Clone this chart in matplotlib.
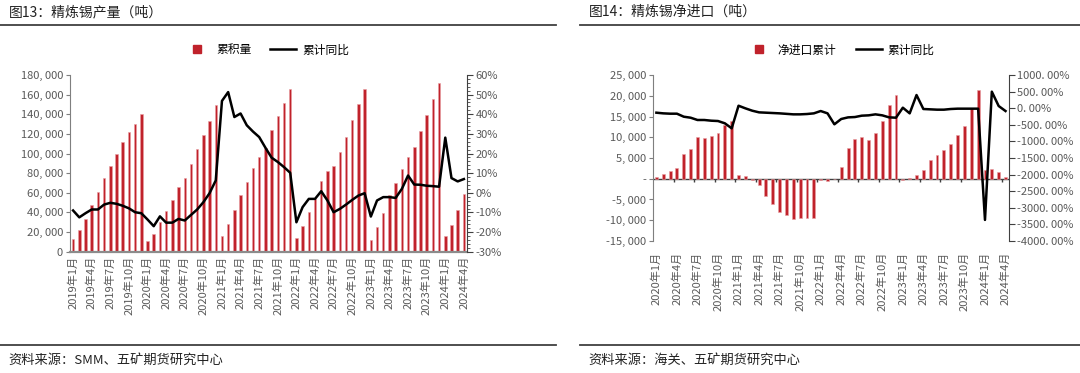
import numpy as np
import matplotlib
matplotlib.use("Agg")
import matplotlib.pyplot as plt
from matplotlib.lines import Line2D
from matplotlib.ticker import FixedLocator, AutoMinorLocator

plt.rcParams['font.family'] = ['Noto Sans CJK SC', 'DejaVu Sans']
plt.rcParams['axes.unicode_minus'] = False

# ---- data: refined tin output (t) and cumulative yoy (%) ----
prod_months = [f"{y}年{m}月" for y in range(2019, 2025) for m in range(1, 13)][:64]
prod_cum = [
    13000, 22300, 33800, 48000, 61300, 75200, 87400, 99700, 112100, 121900, 129600, 139800,
    10900, 18400, 30000, 41600, 52900, 65500, 75000, 89300, 104700, 118700, 133300, 149700,
    15600, 28200, 42500, 57800, 71100, 85400, 96800, 106000, 123500, 137800, 151500, 166000,
    13600, 26300, 40200, 53500, 71600, 82500, 87600, 102000, 117000, 134400, 150700, 166100,
    11900, 25600, 39600, 57300, 70200, 84600, 96200, 106700, 123100, 139100, 155200, 171500,
    16000, 27300, 42300, 58700,
]
prod_yoy = [
    -9.0, -12.5, -10.4, -8.5, -8.5, -6.0, -5.1, -5.6, -6.6, -7.9, -9.9, -10.4,
    -13.6, -17.0, -12.0, -15.2, -15.2, -13.3, -14.1, -11.3, -8.5, -4.8, -0.2, 6.3,
    46.8, 51.3, 38.6, 40.4, 34.4, 31.2, 28.4, 23.0, 17.9, 15.7, 13.1, 10.2,
    -15.0, -7.3, -3.1, -3.1, 0.8, -3.9, -9.9, -8.2, -6.0, -3.6, -1.4, -0.2,
    -12.1, -3.9, -2.2, -2.2, -2.6, 2.0, 8.8, 4.2, 4.1, 3.6, 3.4, 3.1,
    28.1, 7.5, 5.8, 7.0,
]

# ---- data: refined tin net imports (t) and cumulative yoy (%) ----
imp_months = [f"{y}年{m}月" for y in range(2020, 2025) for m in range(1, 13)][:52]
imp_cum = [
    480, 1120, 1850, 2570, 5860, 7230, 9960, 9720, 10360, 11080, 12850, 13800,
    880, 560, -320, -1450, -4180, -6020, -8000, -8750, -9800, -9500, -9400, -9400,
    -300, -450, 50, 2810, 7470, 9480, 9960, 9310, 11080, 13810, 17830, 20150,
    -320, 240, 800, 2090, 4500, 5620, 6830, 8350, 10440, 12610, 17100, 21280,
    2090, 2330, 1610, 320,
]
imp_yoy = [
    -135, -155, -165, -165, -256, -286, -355, -355, -376, -386, -455, -606,
    75, -4, -75, -125, -135, -145, -155, -170, -185, -185, -175, -155,
    -85, -155, -485, -325, -276, -266, -225, -215, -185, -215, -276, -286,
    16, -155, 397, -24, -34, -44, -44, -24, -14, -14, -14, -14,
    -3365, 498, 66, -85,
]

RED = '#C0222B'
GRAY = '#595959'
AXC = '#7F7F7F'

fig = plt.figure(figsize=(10.8, 3.73), dpi=100)


def thousands(v, dash_zero=False):
    if v == 0:
        return '-' if dash_zero else '0'
    return f"{int(v):,}".replace(',', ', ')


# ================= left panel =================
ax1 = fig.add_axes([0.0648, 0.3252, 0.3676, 0.4737])
x1 = np.arange(len(prod_cum))
ax1.bar(x1, prod_cum, width=0.4, color=RED, edgecolor='#E8A0A4', linewidth=0.4, zorder=2)
ax1.set_xlim(-0.5, len(prod_cum) - 0.5)
ax1.set_ylim(0, 180000)
ax1.set_yticks(np.arange(0, 180001, 20000))
ax1.set_yticklabels([thousands(v) for v in np.arange(0, 180001, 20000)])
ax1.set_xticks(x1[::3])
ax1.set_xticklabels(prod_months[::3], rotation=90)
ax1.tick_params(axis='x', length=0, pad=3, labelsize=8, labelcolor=GRAY)
ax1.tick_params(axis='y', length=3, color=AXC, labelsize=8, labelcolor=GRAY, pad=2)
for s in ['top', 'right']:
    ax1.spines[s].set_visible(False)
ax1.spines['left'].set_color(AXC)
ax1.spines['bottom'].set_color('#8C8C8C')
ax1.spines['bottom'].set_linewidth(1.6)

ax1b = ax1.twinx()
ax1b.plot(x1, prod_yoy, color='black', lw=1.8, zorder=3)
ax1b.set_ylim(-30, 60)
ax1b.set_yticks(np.arange(-30, 61, 10))
ax1b.set_yticklabels([f"{v}%" for v in range(-30, 61, 10)])
ax1b.yaxis.set_minor_locator(AutoMinorLocator(5))
ax1b.tick_params(axis='y', which='major', length=4, color='#404040', labelsize=8, labelcolor=GRAY, pad=2)
ax1b.tick_params(axis='y', which='minor', length=2, color='#404040')
for s in ['top', 'left', 'bottom']:
    ax1b.spines[s].set_visible(False)
ax1b.spines['right'].set_color('#404040')

fig.legend(handles=[Line2D([], [], marker='s', color=RED, ls='none', markersize=6),
                    Line2D([], [], color='black', lw=1.8)],
           labels=['累积量', '累计同比'], loc='center', bbox_to_anchor=(0.247, 0.866),
           ncol=2, frameon=False, fontsize=8.5, handlelength=2.2, columnspacing=1.6,
           handletextpad=0.5)

# ================= right panel =================
ax2 = fig.add_axes([0.6046, 0.3539, 0.3296, 0.4450])
x2 = np.arange(len(imp_cum))
ax2.bar(x2, imp_cum, width=0.42, color=RED, edgecolor='#E8A0A4', linewidth=0.4, zorder=2)
ax2.set_xlim(-0.5, len(imp_cum) - 0.5)
ax2.set_ylim(-15000, 25000)
yt2 = np.arange(-15000, 25001, 5000)
ax2.set_yticks(yt2)
ax2.set_yticklabels([thousands(v, dash_zero=True) for v in yt2])
ax2.set_xticks(x2[::3])
ax2.set_xticklabels(imp_months[::3], rotation=90)
ax2.tick_params(axis='x', length=0, pad=8, labelsize=8, labelcolor=GRAY)
ax2.tick_params(axis='y', length=3, color=AXC, labelsize=8, labelcolor=GRAY, pad=2)
for s in ['top', 'right', 'bottom']:
    ax2.spines[s].set_visible(False)
ax2.spines['left'].set_color(AXC)
ax2.axhline(0, color='#404040', lw=1.0, zorder=1)
cat_ticks = np.arange(2.5, len(imp_cum), 3)
ax2.vlines(cat_ticks, -900, 0, color='#404040', lw=1.0, zorder=1)

ax2b = ax2.twinx()
ax2b.plot(x2, imp_yoy, color='black', lw=1.8, zorder=3)
ax2b.set_ylim(-4000, 1000)
yt2b = np.arange(-4000, 1001, 500)
ax2b.set_yticks(yt2b)
ax2b.set_yticklabels([f"{v:.2f}%".replace('.', '. ') for v in yt2b])
ax2b.tick_params(axis='y', length=4, color='#404040', labelsize=8, labelcolor=GRAY, pad=2)
for s in ['top', 'left', 'bottom']:
    ax2b.spines[s].set_visible(False)
ax2b.spines['right'].set_color('#404040')

fig.legend(handles=[Line2D([], [], marker='s', color=RED, ls='none', markersize=6),
                    Line2D([], [], color='black', lw=1.8)],
           labels=['净进口累计', '累计同比'], loc='center', bbox_to_anchor=(0.778, 0.866),
           ncol=2, frameon=False, fontsize=8.5, handlelength=2.2, columnspacing=1.6,
           handletextpad=0.5)

# ================= titles, rules, sources =================
fig.text(0.008, 0.968, '图13：精炼锡产量（吨）', fontsize=10, va='center', color='#222222')
fig.text(0.545, 0.968, '图14：精炼锡净进口（吨）', fontsize=10, va='center', color='#222222')
fig.add_artist(Line2D([0.0, 0.515], [0.933, 0.933], transform=fig.transFigure, color='#404040', lw=1.3))
fig.add_artist(Line2D([0.537, 1.0], [0.933, 0.933], transform=fig.transFigure, color='#404040', lw=1.3))
fig.add_artist(Line2D([0.0, 0.515], [0.075, 0.075], transform=fig.transFigure, color='#404040', lw=1.3))
fig.add_artist(Line2D([0.537, 1.0], [0.075, 0.075], transform=fig.transFigure, color='#404040', lw=1.3))
fig.text(0.008, 0.035, '资料来源：SMM、五矿期货研究中心', fontsize=9.5, va='center', color='#222222')
fig.text(0.545, 0.035, '资料来源：海关、五矿期货研究中心', fontsize=9.5, va='center', color='#222222')

fig.savefig('out.png', dpi=100, facecolor='white')
